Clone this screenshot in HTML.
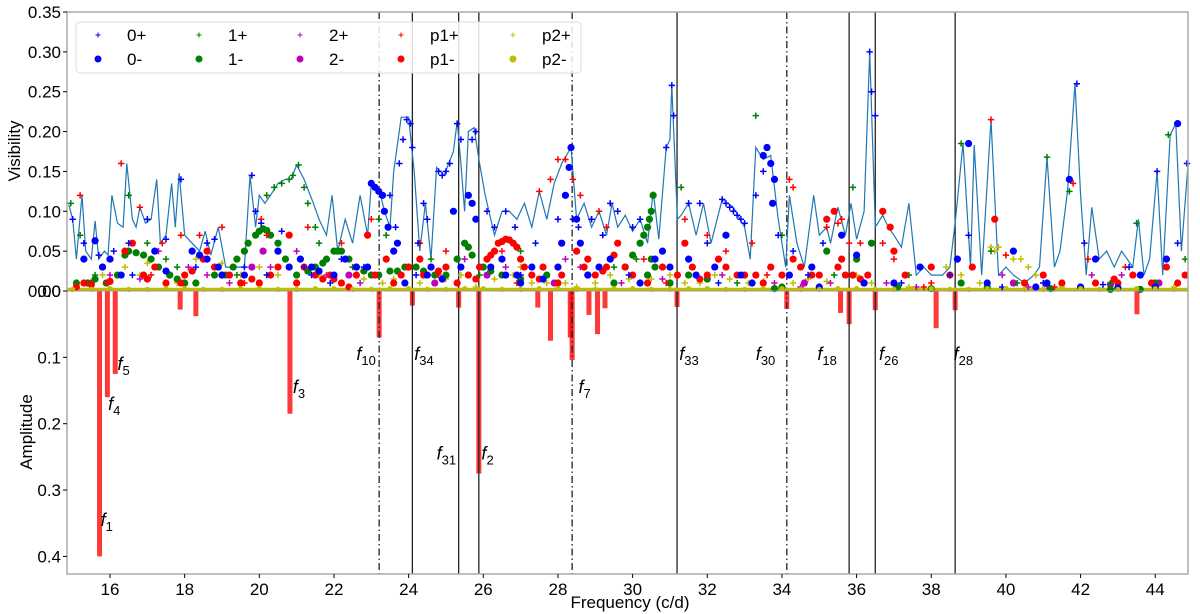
<!DOCTYPE html>
<html><head><meta charset="utf-8"><style>
html,body{margin:0;padding:0;background:#fff;width:1200px;height:614px;overflow:hidden}
svg text{font-family:"Liberation Sans","DejaVu Sans",sans-serif;fill:#000}
</style></head><body>
<svg id="chart" width="1200" height="614" viewBox="0 0 1200 614" xmlns="http://www.w3.org/2000/svg">
<g id="bars"></g>
<g id="vlines"></g>
<g id="pts"></g>
<g id="axes"></g>
<g id="legend"></g>
</svg>
<script>
const envFreq=[14.9,15.0,15.1,15.25,15.35,15.5,15.6,15.7,15.85,15.95,16.05,16.2,16.35,16.45,16.6,16.7,16.8,16.95,17.1,17.25,17.35,17.5,17.65,17.75,17.85,18.0,18.2,18.4,18.55,18.7,18.9,19.1,19.3,19.6,19.75,19.9,20.0,20.15,20.3,20.5,20.7,20.85,21.0,21.2,21.45,21.6,21.8,21.95,22.1,22.3,22.5,22.7,22.9,23.0,23.2,23.35,23.5,23.6,23.8,24.0,24.15,24.3,24.45,24.6,24.75,24.95,25.2,25.3,25.4,25.5,25.6,25.75,25.9,26.05,26.3,26.5,26.7,26.9,27.1,27.3,27.5,27.7,27.9,28.1,28.35,28.5,28.7,28.9,29.1,29.3,29.45,29.6,29.8,30.0,30.2,30.4,30.55,30.7,30.9,31.0,31.05,31.2,31.3,31.5,31.7,31.9,32.1,32.4,32.7,33.0,33.15,33.3,33.5,33.7,33.9,34.1,34.2,34.4,34.6,34.85,35.0,35.2,35.3,35.5,35.7,35.85,36.0,36.2,36.35,36.5,36.7,36.85,37.0,37.2,37.4,37.6,37.8,38.0,38.3,38.5,38.65,38.85,39.05,39.15,39.35,39.6,39.8,40.0,40.2,40.5,40.75,40.9,41.1,41.3,41.45,41.65,41.85,42.0,42.15,42.3,42.5,42.7,42.9,43.1,43.4,43.55,43.7,43.85,44.05,44.2,44.4,44.55,44.7,44.88];
const envVis=[.108,.09,.04,.12,.05,.04,.088,.04,.05,.045,.12,.085,.08,.16,.09,.08,.105,.085,.09,.14,.06,.07,.135,.08,.148,.07,.06,.05,.075,.045,.08,.03,.03,.03,.145,.08,.12,.11,.12,.135,.14,.14,.158,.14,.11,.09,.07,.12,.05,.09,.06,.12,.07,.135,.13,.1,.08,.15,.218,.218,.15,.05,.11,.04,.155,.145,.175,.213,.16,.1,.2,.205,.16,.12,.07,.1,.1,.09,.11,.08,.125,.09,.135,.16,.18,.09,.11,.08,.1,.07,.11,.08,.095,.075,.09,.06,.125,.065,.18,.19,.258,.09,.095,.11,.07,.11,.06,.115,.105,.08,.04,.18,.165,.17,.09,.03,.12,.06,.03,.12,.07,.08,.06,.105,.07,.11,.065,.1,.3,.08,.095,.08,.07,.055,.11,.02,.03,.02,.02,.03,.09,.185,.03,.183,.02,.215,.02,.03,.02,.01,.02,.03,.168,.03,.05,.125,.26,.12,.02,.105,.04,.05,.03,.05,.03,.09,.02,.04,.15,.02,.196,.21,.05,.16];
const s0p=[[15.0,.09],[15.3,.06],[15.7,.045],[16.1,.05],[16.5,.06],[17.0,.09],[17.5,.065],[17.9,.14],[18.6,.06],[18.8,.065],[19.6,.03],[19.8,.145],[19.9,.1],[20.05,.085],[20.6,.075],[21.2,.03],[21.4,.02],[22.2,.04],[22.8,.03],[23.5,.12],[23.65,.08],[23.75,.16],[23.85,.19],[23.95,.215],[24.05,.21],[24.1,.18],[24.25,.06],[24.4,.11],[24.5,.09],[24.8,.15],[24.9,.145],[25.0,.15],[25.1,.16],[25.3,.21],[25.4,.19],[25.7,.19],[25.8,.2],[26.1,.1],[26.3,.08],[26.6,.1],[26.85,.08],[27.4,.06],[28.0,.09],[28.4,.09],[28.55,.08],[28.9,.09],[29.2,.07],[29.4,.11],[29.6,.1],[30.0,.08],[30.2,.09],[30.9,.18],[31.05,.258],[31.1,.22],[31.5,.11],[31.8,.11],[32.0,.06],[32.4,.115],[32.5,.11],[32.6,.105],[32.7,.1],[32.8,.095],[32.9,.09],[33.0,.085],[33.3,.12],[33.5,.15],[33.9,.07],[34.3,.05],[35.1,.06],[36.35,.3],[36.4,.25],[36.5,.22],[38.5,.02],[39.0,.07],[41.0,.01],[41.9,.26],[42.1,.06],[43.3,.03],[44.05,.15],[44.6,.06],[44.85,.16],[16.6,.02],[18.3,.03],[20.2,.02],[21.9,.01],[24.2,.02],[27.0,.02],[29.9,.02],[32.3,.01],[34.7,.02],[37.2,.01],[39.9,.005],[42.6,.008]];
const s0m=[[15.3,.04],[15.6,.063],[16.0,.04],[17.2,.05],[18.2,.05],[18.4,.045],[19.0,.02],[20.5,.05],[21.1,.04],[21.4,.03],[22.3,.04],[22.6,.03],[23.0,.135],[23.1,.13],[23.2,.125],[23.3,.12],[23.35,.1],[23.45,.08],[23.6,.05],[23.7,.06],[24.5,.02],[25.2,.1],[25.6,.12],[25.7,.11],[25.8,.09],[26.5,.04],[26.9,.02],[27.3,.03],[27.6,.015],[28.1,.06],[28.2,.12],[28.3,.155],[28.35,.18],[28.5,.09],[28.6,.06],[29.4,.04],[30.8,.05],[31.5,.04],[32.5,.07],[32.9,.02],[33.5,.17],[33.6,.18],[33.7,.16],[33.8,.14],[33.75,.11],[34.8,.03],[35.6,.07],[36.2,.01],[37.7,.03],[38.7,.04],[39.0,.185],[40.2,.05],[41.1,.01],[41.7,.14],[42.4,.04],[43.6,.02],[44.3,.04],[44.6,.21],[15.8,.03],[16.3,.02],[17.5,.025],[18.6,.04],[18.9,.03],[19.6,.02],[20.8,.03],[21.6,.025],[22.0,.02],[22.9,.03],[23.9,.01],[24.6,.03],[24.9,.015],[25.4,.03],[26.2,.03],[26.6,.02],[27.0,.01],[28.0,.03],[28.8,.02],[29.1,.03],[30.2,.01],[30.6,.04],[31.0,.03],[31.7,.02],[32.2,.03],[33.2,.01],[34.2,.02],[35.0,.005],[36.0,.045],[37.0,.01],[39.5,.01],[40.8,.005],[42.0,.005],[43.0,.004],[44.0,.005]];
const s1p=[[14.95,.11],[15.2,.07],[16.5,.12],[17.0,.06],[17.5,.04],[19.9,.07],[20.2,.12],[20.4,.13],[20.6,.135],[20.8,.14],[20.9,.145],[21.05,.158],[21.2,.13],[21.3,.11],[21.5,.08],[21.6,.06],[21.8,.04],[22.9,.07],[23.2,.09],[23.4,.07],[24.6,.04],[27.0,.05],[30.1,.04],[31.3,.13],[33.3,.22],[34.0,.07],[35.9,.13],[37.4,.02],[38.8,.185],[39.6,.05],[41.1,.168],[41.7,.125],[43.5,.085],[44.35,.196],[44.8,.04],[15.6,.02],[17.8,.03],[19.4,.02],[22.5,.03],[25.9,.02],[28.0,.01],[29.5,.03],[32.8,.01],[35.4,.02],[40.3,.01],[42.8,.01]];
const s1m=[[15.4,.01],[16.2,.02],[16.5,.05],[16.7,.048],[16.9,.045],[17.1,.04],[17.3,.03],[17.6,.02],[18.0,.01],[19.3,.03],[19.6,.05],[19.9,.07],[20.1,.078],[20.2,.076],[20.5,.06],[21.0,.02],[21.5,.03],[21.8,.04],[22.0,.05],[22.2,.05],[22.4,.04],[22.6,.03],[23.0,.02],[23.5,.025],[23.9,.03],[24.2,.03],[24.7,.02],[25.0,.02],[25.5,.06],[25.7,.045],[26.0,.03],[26.5,.02],[27.7,.02],[29.5,.01],[30.2,.06],[30.4,.08],[30.5,.1],[30.55,.12],[30.5,.04],[30.4,.02],[30.6,.03],[31.5,.02],[33.8,.003],[35.2,.05],[36.4,.06],[38.8,.01],[39.5,.005],[41.2,.003],[42.8,.002],[43.6,.002],[44.0,.01],[15.1,.01],[15.6,.015],[15.9,.01],[16.4,.045],[17.8,.015],[18.3,.01],[18.8,.02],[19.1,.02],[19.4,.04],[19.7,.06],[20.0,.075],[20.3,.07],[20.7,.04],[21.3,.025],[21.7,.035],[22.1,.05],[22.8,.025],[23.2,.02],[23.7,.025],[24.0,.03],[24.4,.025],[25.3,.04],[25.6,.055],[26.2,.025],[27.0,.015],[28.8,.02],[29.8,.03],[30.0,.045],[30.3,.07],[30.45,.09],[31.0,.01],[32.0,.015],[34.0,.005],[36.0,.04],[37.1,.005],[38.0,.003]];
const s2p=[[16.0,.02],[17.3,.05],[18.1,.03],[20.3,.03],[21.0,.05],[23.4,.04],[25.5,.04],[27.3,.03],[28.2,.04],[29.7,.01],[32.4,.02],[34.5,.005],[35.3,.01],[36.8,.01],[39.9,.02],[41.1,.006],[42.3,.02],[43.1,.02],[16.8,.015],[18.6,.02],[19.2,.01],[21.8,.02],[22.7,.01],[24.4,.02],[26.6,.03],[28.6,.03],[30.8,.015],[33.8,.01],[37.6,.005],[40.6,.005]];
const s2m=[[15.5,.01],[17.6,.02],[19.8,.03],[20.1,.05],[22.4,.02],[24.7,.01],[26.1,.02],[27.9,.01],[31.0,.01],[34.6,.01],[40.2,.01],[42.8,.008],[44.1,.01]];
const sp1p=[[15.2,.12],[16.3,.16],[16.8,.105],[17.4,.06],[17.9,.07],[18.4,.07],[19.0,.08],[20.05,.09],[20.2,.07],[21.3,.08],[22.2,.06],[23.0,.09],[24.3,.06],[25.0,.05],[26.5,.05],[27.5,.125],[27.8,.14],[28.0,.165],[28.2,.165],[28.4,.14],[28.6,.12],[28.9,.09],[29.1,.1],[29.3,.08],[29.6,.06],[30.3,.04],[31.4,.09],[32.0,.07],[32.5,.05],[33.2,.06],[34.2,.14],[34.3,.13],[35.2,.08],[35.5,.085],[35.6,.09],[35.8,.06],[36.1,.06],[36.7,.06],[37.0,.04],[38.0,.01],[39.6,.215],[40.0,.045],[41.8,.135],[42.2,.04],[43.2,.03],[44.3,.03],[15.9,.01],[17.1,.02],[19.6,.01],[22.6,.02],[24.8,.02],[26.9,.01],[30.9,.01],[33.6,.02],[37.8,.005],[41.3,.005]];
const sp1m=[[15.3,.01],[15.8,.03],[16.4,.05],[16.6,.06],[17.2,.03],[17.9,.01],[18.5,.04],[18.6,.05],[19.2,.02],[20.0,.01],[20.8,.07],[21.2,.03],[21.5,.02],[21.7,.015],[21.9,.02],[22.2,.01],[22.6,.02],[22.9,.07],[23.4,.04],[24.0,.03],[24.3,.04],[24.6,.03],[25.0,.03],[25.6,.02],[25.9,.03],[26.1,.04],[26.3,.05],[26.4,.06],[26.6,.065],[26.8,.06],[27.0,.04],[27.3,.02],[27.6,.03],[28.1,.02],[28.5,.05],[28.7,.03],[29.0,.02],[29.3,.03],[29.6,.06],[30.0,.02],[30.8,.03],[31.4,.06],[31.6,.03],[32.0,.02],[32.3,.04],[32.8,.02],[33.3,.02],[33.7,.03],[34.3,.04],[34.8,.02],[35.2,.09],[35.4,.1],[35.6,.04],[35.9,.02],[36.1,.015],[36.3,.02],[36.7,.1],[37.0,.05],[38.0,.03],[39.1,.03],[39.7,.09],[41.0,.02],[42.4,.01],[42.9,.015],[43.4,.02],[43.9,.01],[44.3,.03],[44.8,.02],[15.1,.005],[15.5,.008],[16.0,.012],[16.9,.02],[17.0,.015],[17.5,.01],[18.0,.02],[18.2,.025],[18.8,.03],[19.0,.02],[19.5,.01],[19.8,.015],[20.3,.02],[20.5,.03],[21.0,.01],[22.0,.015],[22.4,.005],[23.1,.02],[23.6,.01],[23.8,.02],[24.4,.02],[24.8,.025],[25.3,.01],[25.8,.015],[26.2,.045],[26.5,.062],[26.7,.064],[26.9,.055],[27.1,.03],[27.5,.015],[28.0,.01],[28.8,.04],[29.2,.025],[29.5,.045],[29.8,.03],[30.4,.01],[31.2,.02],[31.8,.015],[32.5,.03],[33.0,.02],[33.5,.01],[34.0,.02],[34.5,.03],[35.0,.02],[35.5,.03],[35.7,.02],[36.2,.01],[36.9,.08],[37.3,.02],[38.5,.02],[40.5,.01],[41.5,.01],[43.0,.01],[44.6,.01]];
const sp2p=[[15.8,.02],[16.4,.03],[17.0,.035],[17.8,.01],[18.8,.03],[19.5,.02],[20.0,.03],[21.6,.02],[22.4,.02],[23.6,.015],[24.3,.01],[25.4,.02],[26.3,.015],[27.0,.03],[27.7,.01],[28.5,.005],[29.4,.02],[30.5,.015],[31.4,.01],[32.2,.02],[33.1,.01],[34.7,.015],[36.0,.02],[37.4,.005],[38.4,.03],[39.6,.055],[39.7,.05],[39.8,.055],[40.0,.045],[40.2,.04],[40.4,.04],[40.6,.03],[40.8,.02],[41.0,.01],[42.0,.005],[15.3,.01],[16.8,.02],[18.3,.04],[19.0,.035],[20.5,.02],[21.0,.01],[22.8,.015],[23.3,.01],[25.0,.015],[25.8,.005],[26.8,.02],[27.3,.01],[28.2,.01],[29.0,.01],[29.9,.015],[31.0,.02],[31.8,.01],[32.6,.015],[33.5,.012],[34.3,.01],[35.2,.012],[36.4,.01],[37.0,.01],[38.8,.02],[39.3,.01],[41.5,.005],[43.0,.004],[44.5,.005]];
const sp2m=[[15.0,.002],[15.5,.002],[16.0,.003],[16.5,.002],[17.0,.002],[17.5,.003],[18.0,.003],[18.5,.002],[19.0,.002],[19.5,.003],[20.0,.003],[20.5,.002],[21.0,.002],[21.5,.003],[22.0,.003],[22.5,.002],[23.0,.002],[23.5,.003],[24.0,.003],[24.5,.002],[25.0,.002],[25.5,.003],[26.0,.003],[26.5,.002],[27.0,.002],[27.5,.003],[28.0,.003],[28.5,.002],[29.0,.002],[29.5,.003],[30.0,.003],[30.5,.002],[31.0,.002],[31.5,.003],[32.0,.003],[32.5,.002],[33.0,.002],[33.5,.003],[34.0,.003],[34.5,.002],[35.0,.002],[35.5,.003],[36.0,.003],[36.5,.002],[37.0,.002],[37.5,.003],[38.0,.003],[38.5,.002],[39.0,.002],[39.5,.003],[40.0,.003],[40.5,.002],[41.0,.002],[41.5,.003],[42.0,.003],[42.5,.002],[43.0,.002],[43.5,.003],[44.0,.003],[44.5,.002]];
const barFreq=[15.72,15.93,16.14,17.88,18.30,20.82,23.21,24.10,25.34,25.88,27.46,27.80,28.33,28.38,28.83,29.06,29.26,31.19,34.13,35.57,35.80,36.50,38.13,38.64,43.51];
const barAmp=[.40,.16,.125,.028,.038,.185,.07,.022,.025,.275,.025,.075,.07,.104,.036,.065,.026,.024,.027,.033,.05,.029,.056,.029,.035];
const lineFreq=[23.21,24.10,25.34,25.88,28.38,31.19,34.13,35.80,36.50,38.64];
const lineDash=[1,0,0,0,1,0,1,0,0,0];
const labSub=["10","34","31","2","7","33","30","18","26","28","1","4","5","3"];
const labFreq=[22.6,24.15,24.75,25.95,28.55,31.25,33.3,34.95,36.6,38.6,15.75,15.95,16.2,20.9];
const labAmp=[.095,.095,.245,.245,.145,.095,.095,.095,.095,.095,.345,.17,.11,.145];
const visTicks=[0,0.05,0.1,0.15,0.2,0.25,0.3,0.35];
const visTickLabels=["0.00","0.05","0.10","0.15","0.20","0.25","0.30","0.35"];
const ampTicks=[0,0.1,0.2,0.3,0.4];
const ampTickLabels=["0.0","0.1","0.2","0.3","0.4"];
const xTicks=[16,18,20,22,24,26,28,30,32,34,36,38,40,42,44];

const L=67,R=1188,T=12,B=574,Z=291;
const X=f=>110+(f-16)*37.33;
const YV=v=>Z-v*797.1;
const YA=a=>Z+a*663.5;
const NS="http://www.w3.org/2000/svg";
function mk(tag,parent,at){const e=document.createElementNS(NS,tag);for(const k in at)e.setAttribute(k,at[k]);parent.appendChild(e);return e;}
const gBars=document.getElementById('bars'),gV=document.getElementById('vlines'),gP=document.getElementById('pts'),gA=document.getElementById('axes'),gL=document.getElementById('legend');

barFreq.forEach((f,i)=>{const r=mk('rect',gBars,{x:X(f)-2.5,y:Z,width:5,height:YA(barAmp[i])-Z,fill:'rgba(255,0,0,0.78)'});

});

lineFreq.forEach((f,i)=>{const l=mk('line',gV,{x1:X(f),x2:X(f),y1:T,y2:B,stroke:'#222','stroke-width':1.3});
if(lineDash[i])l.setAttribute('stroke-dasharray','7,3,1.5,3');

});

let d='';envFreq.forEach((f,i)=>{d+=(i?'L':'M')+X(f).toFixed(1)+','+YV(envVis[i]).toFixed(1);});
const env=mk('path',gP,{d:d,fill:'none',stroke:'#1f77b4','stroke-width':1.2});



function plus(g,x,y,c,s,w){mk('path',g,{d:`M${x-s},${y}H${x+s}M${x},${y-s}V${y+s}`,stroke:c,'stroke-width':w,fill:'none'});}
function series(arr,c,type,name,r){const g=mk('g',gP,{});


arr.forEach(p=>{const x=X(p[0]),y=YV(p[1]);if(type==='+')plus(g,x,y,c,3.2,1.5);else mk('circle',g,{cx:x,cy:y,r:r||3.6,fill:c});});}
mk('line',gP,{x1:L,x2:R,y1:Z-1.5,y2:Z-1.5,stroke:'#bfbf00','stroke-width':3.5});
series(sp2p,'#bfbf00','+','series-p2-plus');
series(s2m,'#bf00bf','o','series-2-minus');
series(s2p,'#bf00bf','+','series-2-plus');
series(s1m,'#008000','o','series-1-minus');
series(s1p,'#008000','+','series-1-plus');
series(sp1m,'#ff0000','o','series-p1-minus');
series(sp1p,'#ff0000','+','series-p1-plus');
series(s0m,'#0000ff','o','series-0-minus');
series(s0p,'#0000ff','+','series-0-plus');
series(sp2m,'#bfbf00','o','series-p2-minus',2.6);

labSub.forEach((s,i)=>{const t=mk('text',gV,{x:X(labFreq[i]),y:YA(labAmp[i])+6,'font-size':18,'font-style':'italic'});
t.innerHTML='f<tspan dy="5" font-size="13" font-style="normal">'+s+'</tspan>';

});

mk('rect',gA,{x:L,y:T,width:R-L,height:B-T,fill:'none',stroke:'#aaa','stroke-width':1.5});
mk('line',gA,{x1:L,x2:R,y1:Z,y2:Z,stroke:'#999','stroke-width':1});
visTicks.forEach((v,i)=>{mk('line',gA,{x1:L-4,x2:L,y1:YV(v),y2:YV(v),stroke:'#000'});
const t=mk('text',gA,{x:L-6,y:YV(v)+6,'font-size':17,'text-anchor':'end'});t.textContent=visTickLabels[i];

});
ampTicks.forEach((v,i)=>{mk('line',gA,{x1:L-4,x2:L,y1:YA(v),y2:YA(v),stroke:'#000'});
const t=mk('text',gA,{x:L-6,y:YA(v)+6,'font-size':17,'text-anchor':'end'});t.textContent=ampTickLabels[i];

});
xTicks.forEach(v=>{mk('line',gA,{x1:X(v),x2:X(v),y1:B,y2:B+4,stroke:'#000'});
const t=mk('text',gA,{x:X(v),y:B+21,'font-size':17,'text-anchor':'middle'});t.textContent=v;

});
let t=mk('text',gA,{x:630,y:608,'font-size':17,'text-anchor':'middle'});t.textContent='Frequency (c/d)';


t=mk('text',gA,{transform:'translate(20,151) rotate(-90)','font-size':17,'text-anchor':'middle'});t.textContent='Visibility';


t=mk('text',gA,{transform:'translate(32,432) rotate(-90)','font-size':17,'text-anchor':'middle'});t.textContent='Amplitude';



mk('rect',gL,{x:76,y:22,width:505,height:51,rx:4,fill:'rgba(255,255,255,0.85)',stroke:'#ddd'});
const legNames=[["0+","0-"],["1+","1-"],["2+","2-"],["p1+","p1-"],["p2+","p2-"]];
const legCols=['#0000ff','#008000','#bf00bf','#ff0000','#bfbf00'];
const legX=[98,199,300,401,513];
legNames.forEach((pair,i)=>{pair.forEach((nm,j)=>{const y=j?59:35;
const g=mk('g',gL,{});


if(j)mk('circle',g,{cx:legX[i],cy:y,r:3.5,fill:legCols[i]});else plus(g,legX[i],y,legCols[i],2.5,1);
const tt=mk('text',g,{x:legX[i]+29,y:y+6,'font-size':17});tt.textContent=nm;});});
</script>
</body></html>
